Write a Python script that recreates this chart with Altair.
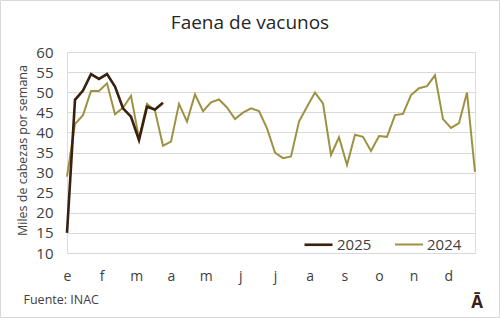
import altair as alt
import pandas as pd

# ---- data ----
months = ["e", "f", "m", "a", "m", "j", "j", "a", "s", "o", "n", "d"]

serie_2024 = [29.0, 42.1, 44.3, 50.3, 50.3, 52.2, 44.5, 46.1, 49.1, 38.5,
              47.1, 45.4, 36.7, 37.7, 47.1, 42.7, 49.5, 45.3, 47.5, 48.2,
              46.2, 43.3, 44.9, 46.0, 45.3, 41.0, 35.0, 33.6, 34.0, 42.7,
              46.4, 49.9, 47.2, 34.4, 38.8, 31.9, 39.4, 38.9, 35.4, 39.1,
              38.9, 44.3, 44.6, 49.3, 51.0, 51.5, 54.2, 43.3, 41.1, 42.3,
              49.9, 30.2]

serie_2025 = [15.0, 48.1, 50.4, 54.5, 53.3, 54.5, 51.4, 46.0, 43.9, 38.1,
              46.4, 45.7, 47.4]

series_names = ["2025", "2024"]
series_colors = ["#3a2010", "#9d9243"]
series_widths = [2.6, 2.0]

rows = []
for i, v in enumerate(serie_2024):
    rows.append({"semana": i, "valor": v, "serie": "2024"})
for i, v in enumerate(serie_2025):
    rows.append({"semana": i, "valor": v, "serie": "2025"})
df = pd.DataFrame(rows)

n_weeks = len(serie_2024)
month_ticks = [i * n_weeks / 12 for i in range(12)]
label_expr = "[" + ",".join("'%s'" % m for m in months) + "][round(datum.value*12/%d)]" % n_weeks

FONT = "Open Sans"
TXT = "#404040"

W, H = 408, 201
PAD_L, PAD_T = 67, 52

lines = alt.Chart(df).mark_line(clip=False).encode(
    x=alt.X("semana:Q",
            scale=alt.Scale(domain=[0, n_weeks - 1], nice=False, zero=False),
            axis=alt.Axis(values=month_ticks, labelExpr=label_expr, grid=False,
                          domain=False, ticks=False, labelFlush=False,
                          labelPadding=27, labelBaseline="alphabetic",
                          labelFontSize=14, labelColor=TXT, labelFont=FONT,
                          title="Fuente: INAC", titleFont=FONT, titleFontSize=12.5,
                          titleFontWeight="normal", titleColor=TXT,
                          titleX=23 - PAD_L, titleY=303 - (PAD_T + H),
                          titleAlign="left", titleBaseline="alphabetic")),
    y=alt.Y("valor:Q",
            scale=alt.Scale(domain=[10, 60], nice=False, zero=False),
            axis=alt.Axis(values=list(range(10, 61, 5)), grid=True,
                          gridColor="#d9d9d9", gridWidth=1, domain=False,
                          ticks=False, labelPadding=14, labelFontSize=15,
                          labelColor=TXT, labelFont=FONT,
                          title="Miles de cabezas por semana", titleFont=FONT,
                          titleFontSize=12.5, titleFontWeight="normal",
                          titleColor=TXT, titleAngle=-90, titleX=22 - PAD_L,
                          titleY=150 - PAD_T, titleAlign="center",
                          titleBaseline="middle")),
    color=alt.Color("serie:N",
                    scale=alt.Scale(domain=series_names, range=series_colors),
                    legend=alt.Legend(orient="none", direction="horizontal",
                                      legendX=303 - PAD_L, legendY=177,
                                      title=None, symbolType="stroke",
                                      symbolSize=784, symbolStrokeWidth=2.5,
                                      labelFontSize=15, labelFont=FONT,
                                      labelColor=TXT, labelOffset=3,
                                      columnPadding=19)),
    strokeWidth=alt.StrokeWidth("serie:N",
                                scale=alt.Scale(domain=series_names, range=series_widths),
                                legend=None),
    detail="serie:N",
)

logo = alt.Chart(pd.DataFrame({"t": ["Ā"]})).mark_text(
    font=FONT, fontSize=17, fontWeight="bold", color="#3a2010",
    align="center", baseline="alphabetic"
).encode(text="t:N", x=alt.value(477 - PAD_L), y=alt.value(308 - PAD_T))

frame = alt.Chart(pd.DataFrame({"a": [0]})).mark_rect(
    fill=None, stroke="#d9d9d9", strokeWidth=1
).encode(x=alt.value(0.5 - PAD_L), x2=alt.value(499.5 - PAD_L),
         y=alt.value(0.5 - PAD_T), y2=alt.value(317.5 - PAD_T))

# the frame extends the group bounds up to the page top, so the title is
# shifted down from there to sit at its baseline of ~32 px
chart = alt.layer(frame, lines, logo).properties(
    width=W, height=H,
    title=alt.TitleParams("Faena de vacunos", font=FONT, fontSize=19,
                          fontWeight="normal", color="#262626",
                          anchor="middle", dx=250 - (PAD_L + W / 2),
                          baseline="alphabetic", offset=0, dy=48),
    autosize=alt.AutoSizeParams(type="none"),
    padding={"left": PAD_L, "top": PAD_T, "right": 500 - PAD_L - W, "bottom": 318 - PAD_T - H},
).configure_view(stroke=None).configure(background="white")

chart.save("out.html", embed_options={"renderer": "svg", "actions": False})
